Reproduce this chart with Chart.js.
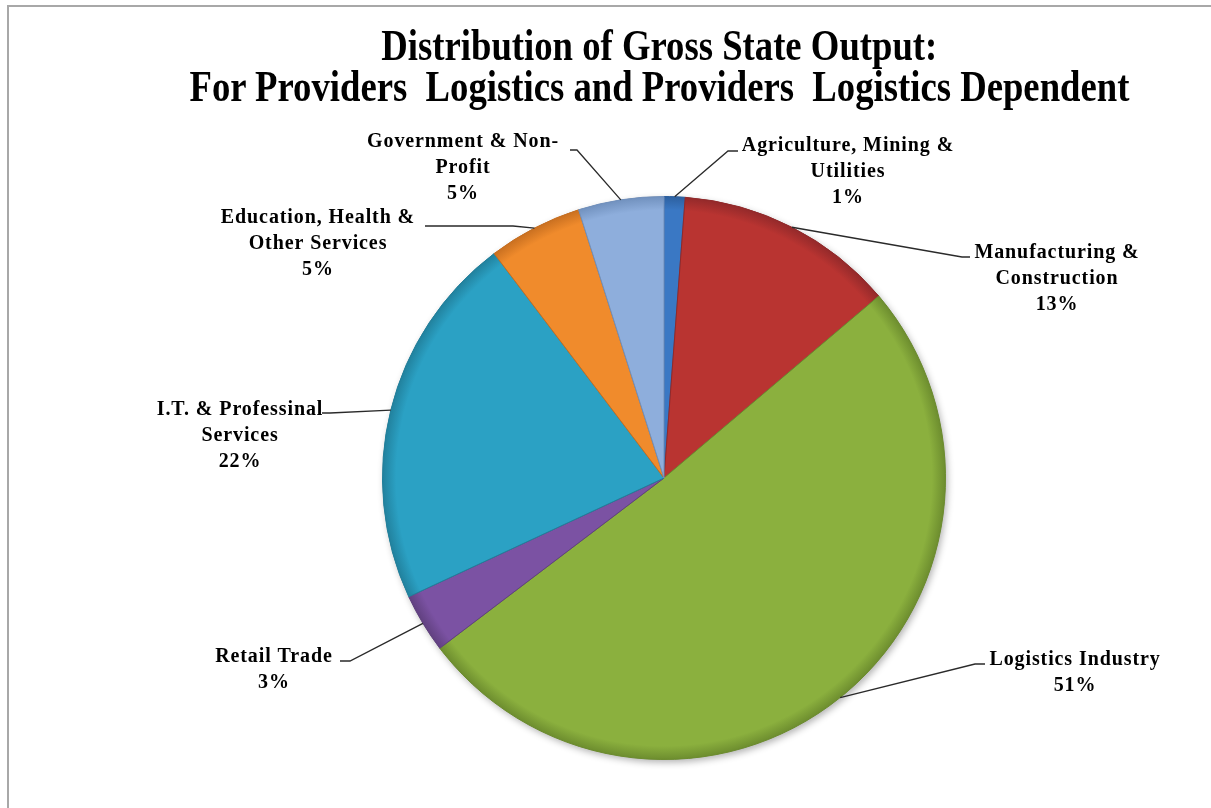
<!DOCTYPE html>
<html>
<head>
<meta charset="utf-8">
<script src="https://cdn.jsdelivr.net/npm/chart.js@4.4.0/dist/chart.umd.min.js"></script>
<style>
html, body { margin: 0; padding: 0; background: #fff; overflow: hidden; }
#wrap { position: relative; width: 1211px; height: 808px; }
#frame { position: absolute; left: 7px; top: 5px; width: 1230px; height: 830px;
  border-top: 2px solid #a8a8a8; border-left: 2px solid #a8a8a8; }
#title { position: absolute; left: 54px; top: 25px; width: 1211px; text-align: center;
  font: bold 44px 'Liberation Serif', 'Times New Roman', serif; line-height: 41px; color: #000; }
#title span { display: inline-block; white-space: pre; transform-origin: center; }
canvas { position: absolute; left: 0; top: 0; }
</style>
</head>
<body>
<div id="wrap">
  <div id="frame"></div>
  <canvas id="pie" width="1211" height="808"></canvas>
  <div id="title"><span>Distribution of Gross State Output:</span><br><span>For Providers  Logistics and Providers  Logistics Dependent</span></div>
</div>
<script>
///data (clockwise from 12 o'clock)
var categories = ['Agriculture, Mining & Utilities', 'Manufacturing & Construction', 'Logistics Industry',
    'Retail Trade', 'I.T. & Professinal Services', 'Education, Health & Other Services', 'Government & Non-Profit'];
var labelLines = [
    ['Agriculture, Mining &', 'Utilities'],
    ['Manufacturing &', 'Construction'],
    ['Logistics Industry'],
    ['Retail Trade'],
    ['I.T. & Professinal', 'Services'],
    ['Education, Health &', 'Other Services'],
    ['Government & Non-', 'Profit']
];
var values = [1.2, 12.6, 50.8, 3.4, 21.6, 5.4, 4.9];

var colors = ['#3a78c4', '#b93431', '#8bb03e', '#7b52a3', '#2ba1c4', '#f08b2c', '#8eaedc'];
var rimColors = ['#2c5f9e', '#92292a', '#6c8c2e', '#60407f', '#21809c', '#c86f20', '#7090bd'];

//where each callout text sits (x, first line y) and where its leader line ends
var calloutLayout = [
    {x: 848, y: 146, elbow: [728, 151], end: [738, 151]},
    {x: 1057, y: 253, elbow: [962, 257], end: [970, 257]},
    {x: 1075, y: 660, elbow: [975, 664], end: [985, 664]},
    {x: 274, y: 657, elbow: [350, 661], end: [340, 661]},
    {x: 240, y: 410, elbow: [330, 413], end: [322, 413]},
    {x: 318, y: 218, elbow: [513, 226], end: [425, 226]},
    {x: 463, y: 142, elbow: [577, 150], end: [570, 150]}
];
///

//squeeze title lines like the condensed original
var spans = document.querySelectorAll('#title span');
var sq = 940 / spans[1].offsetWidth;
spans.forEach(function(s){ s.style.transform = 'scaleX(' + sq + ')'; });

function sliceFill(c){
    var base = colors[c.dataIndex];
    var a = c.chart.chartArea;
    if (!a) return base;
    var cx = (a.left + a.right) / 2, cy = (a.top + a.bottom) / 2;
    var r = Math.min(a.right - a.left, a.bottom - a.top) / 2;
    var g = c.chart.ctx.createRadialGradient(cx, cy, 0, cx, cy, r);
    g.addColorStop(0, base);
    g.addColorStop(0.95, base);
    g.addColorStop(1, rimColors[c.dataIndex]);
    return g;
}

//soft shadow under the whole pie
var pieShadow = {
    id: 'pieShadow',
    beforeDatasetsDraw: function(chart){
        var arc = chart.getDatasetMeta(0).data[0];
        if (!arc) return;
        var p = arc.getProps(['x', 'y', 'outerRadius'], true);
        var ctx = chart.ctx;
        ctx.save();
        ctx.shadowColor = 'rgba(0,0,0,0.3)';
        ctx.shadowBlur = 7;
        ctx.shadowOffsetX = 2;
        ctx.shadowOffsetY = 3;
        ctx.fillStyle = '#888';
        ctx.beginPath();
        ctx.arc(p.x, p.y, p.outerRadius, 0, Math.PI * 2);
        ctx.fill();
        ctx.restore();
    }
};

//callout labels with leader lines
var callouts = {
    id: 'callouts',
    afterDatasetsDraw: function(chart){
        var ctx = chart.ctx;
        var total = values.reduce(function(a, b){ return a + b; }, 0);
        ctx.save();
        chart.getDatasetMeta(0).data.forEach(function(arc, i){
            var p = arc.getProps(['x', 'y', 'startAngle', 'endAngle', 'outerRadius'], true);
            var mid = (p.startAngle + p.endAngle) / 2;
            var sx = p.x + Math.cos(mid) * p.outerRadius;
            var sy = p.y + Math.sin(mid) * p.outerRadius;
            var L = calloutLayout[i];
            ctx.strokeStyle = '#2a2a2a';
            ctx.lineWidth = 1.3;
            ctx.beginPath();
            ctx.moveTo(sx, sy);
            ctx.lineTo(L.elbow[0], L.elbow[1]);
            ctx.lineTo(L.end[0], L.end[1]);
            ctx.stroke();

            var lines = labelLines[i].concat([Math.round(values[i] / total * 100) + '%']);
            ctx.fillStyle = '#000';
            ctx.font = 'bold 20px "Liberation Serif", "Times New Roman", serif';
            ctx.letterSpacing = '0.9px';
            ctx.textAlign = 'center';
            ctx.textBaseline = 'middle';
            lines.forEach(function(t, k){ ctx.fillText(t, L.x, L.y + k * 26); });
        });
        ctx.restore();
    }
};

var ctx = document.getElementById('pie').getContext('2d');
var myChart = new Chart(ctx, {
    type: 'pie',
    data: {
        labels: categories,
        datasets: [{
            data: values,
            backgroundColor: sliceFill,
            borderColor: rimColors,
            borderWidth: 1
        }]
    },
    options: {
        responsive: false,
        animation: false,
        layout: { padding: { left: 382, right: 265, top: 196, bottom: 48 } },
        plugins: {
            legend: { display: false },
            tooltip: { enabled: false }
        }
    },
    plugins: [pieShadow, callouts]
});
</script>
</body>
</html>
